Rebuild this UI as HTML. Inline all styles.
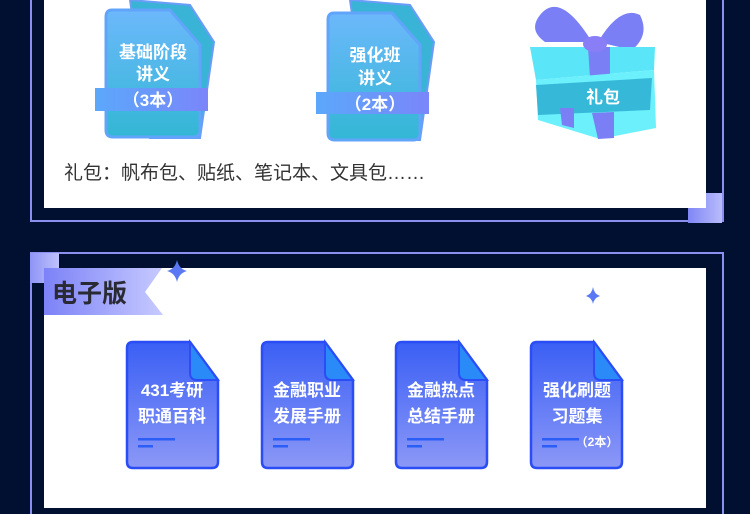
<!DOCTYPE html>
<html><head><meta charset="utf-8"><style>
body{margin:0;width:750px;height:500px;background:#010f31;overflow:hidden;position:relative;font-family:"Liberation Sans","Noto Sans CJK SC",sans-serif}
.a{position:absolute}
</style></head><body>
<!-- top section -->
<div class="a" style="left:30px;top:-2px;width:690px;height:222px;border:2px solid #8b90f0;border-top:none"></div>
<div class="a" style="left:688px;top:193px;width:34px;height:30px;background:linear-gradient(90deg,#7f86f5,#b9bcfb)"></div>
<div class="a" style="left:44px;top:0;width:662px;height:208px;background:#fff"></div>
<svg class="a" style="left:0;top:0" width="750" height="250">
<defs>
<linearGradient id="dg" x1="0" y1="0" x2="0" y2="1"><stop offset="0" stop-color="#6cb8fb"/><stop offset="1" stop-color="#33b7d5"/></linearGradient>
<linearGradient id="bn" x1="0" y1="0" x2="1" y2="0"><stop offset="0" stop-color="#5ba8fb"/><stop offset="1" stop-color="#7a86fa"/></linearGradient>
</defs>
<path d="M130 0 L190 5 L214 42 L200 138 L150 138 Z" fill="#39b3d6" stroke="#6a9cf8" stroke-width="2"/>
<path d="M112 10 H170 L200 45 V130 Q200 137 193 137 H113 Q106 137 106 130 V17 Q106 10 112 10 Z" fill="url(#dg)" stroke="#61a5fb" stroke-width="3"/>
<rect x="95" y="88" width="113" height="23" fill="url(#bn)"/>
<text x="153" y="58" font-size="17" font-weight="bold" fill="#fff" text-anchor="middle">基础阶段</text>
<text x="153" y="80" font-size="17" font-weight="bold" fill="#fff" text-anchor="middle">讲义</text>
<text x="153" y="106" font-size="17" font-weight="bold" fill="#fff" text-anchor="middle">（3本）</text>
<path d="M350 0 L410 5 L434 42 L420 140 L370 140 Z" fill="#39b3d6" stroke="#6a9cf8" stroke-width="2"/>
<path d="M334 13 H392 L420 45 V133 Q420 140 413 140 H335 Q328 140 328 133 V20 Q328 13 334 13 Z" fill="url(#dg)" stroke="#61a5fb" stroke-width="3"/>
<rect x="316" y="92" width="113" height="22" fill="url(#bn)"/>
<text x="375" y="61" font-size="17" font-weight="bold" fill="#fff" text-anchor="middle">强化班</text>
<text x="375" y="84" font-size="17" font-weight="bold" fill="#fff" text-anchor="middle">讲义</text>
<text x="375" y="110" font-size="17" font-weight="bold" fill="#fff" text-anchor="middle">（2本）</text>
<!-- gift -->
<path d="M592 42 Q560 -10 540 15 Q528 30 545 42 Z" fill="#7b7ff5"/>
<path d="M598 42 Q620 5 640 15 Q650 35 632 50 Z" fill="#7b7ff5"/>
<path d="M530 47 L655 47 L654 70 L536 80 Z" fill="#5ae6f8"/>
<path d="M588 47 L610 47 L610 76 L590 78 Z" fill="#7b7ff5"/>
<path d="M536 80 L654 70 L656 128 L600 139 L538 120 Z" fill="#6cf0fc"/>
<path d="M536 85 L652 78 L650 110 L538 115 Z" fill="#36b9d8"/>
<path d="M592 113 L614 112 L614 138 L598 139 Z" fill="#7b7ff5"/>
<path d="M560 108 L574 108 L574 128 L562 125 Z" fill="#7b7ff5"/>
<ellipse cx="595" cy="44" rx="12" ry="8" fill="#8a7ef7"/>
<text x="603" y="103" font-size="17" font-weight="bold" fill="#fff" text-anchor="middle">礼包</text>
<text x="64" y="179" font-size="19" fill="#333">礼包：帆布包、贴纸、笔记本、文具包……</text>
</svg>
<!-- bottom section -->
<div class="a" style="left:30px;top:252px;width:690px;height:260px;border:2px solid #8b90f0;border-bottom:none"></div>
<div class="a" style="left:30px;top:253px;width:29px;height:30px;background:linear-gradient(90deg,#8e94f6,#bfc2fb)"></div>
<div class="a" style="left:44px;top:268px;width:662px;height:240px;background:#fff"></div>
<svg class="a" style="left:0;top:250px" width="750" height="250">
<defs>
<linearGradient id="bb" x1="0" y1="0" x2="1" y2="0"><stop offset="0" stop-color="#7c82f7"/><stop offset="1" stop-color="#c7caff"/></linearGradient>
<linearGradient id="ed2" x1="0" y1="0" x2="0" y2="1"><stop offset="0" stop-color="#3a5ff5"/><stop offset="1" stop-color="#8c98f6"/></linearGradient>
</defs>
<path d="M44 18 H162 L145 42 L163 65 H44 Z" fill="url(#bb)"/>
<text x="52" y="52" font-size="25" font-weight="bold" fill="#2a2a35">电子版</text>
<path d="M177 10 Q179 19 187 21 Q179 23 177 32 Q175 23 167 21 Q175 19 177 10Z" fill="#5a78f4"/>
<path d="M593 37 Q594 44 600 46 Q594 48 593 54 Q592 48 586 46 Q592 44 593 37Z" fill="#5a78f4"/>
<g id="d1">
<path d="M133 92 H190 L218 130 V212 Q218 218 212 218 H133 Q127 218 127 212 V98 Q127 92 133 92Z" fill="url(#ed2)" stroke="#2a4df5" stroke-width="2.5"/>
<path d="M190 92 L218 130 H197 Q190 130 190 123Z" fill="#2a8af8" stroke="#2a4df5" stroke-width="2"/>
<rect x="138" y="188" width="37" height="2.5" fill="#2a5ef6"/><rect x="138" y="195" width="15" height="2.5" fill="#2a5ef6"/>
</g>
<use href="#d1" x="135"/><use href="#d1" x="269"/><use href="#d1" x="404"/>
<g font-size="17" font-weight="bold" fill="#fff" text-anchor="middle">
<text x="172" y="146">431考研</text><text x="172" y="172">职通百科</text>
<text x="307" y="146">金融职业</text><text x="307" y="172">发展手册</text>
<text x="441" y="146">金融热点</text><text x="441" y="172">总结手册</text>
<text x="577" y="146">强化刷题</text><text x="577" y="172">习题集</text>
</g>
<text x="597" y="196" font-size="12" font-weight="bold" fill="#fff" text-anchor="middle">（2本）</text>
</svg>
</body></html>
